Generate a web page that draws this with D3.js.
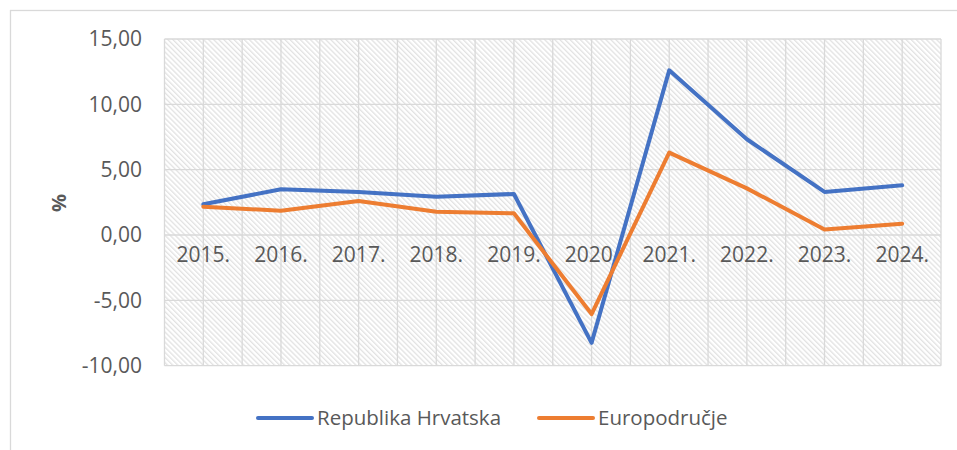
<!DOCTYPE html>
<html>
<head>
<meta charset="utf-8">
<script src="https://cdn.jsdelivr.net/npm/d3@7/dist/d3.min.js"></script>
<style>
  html, body { margin: 0; padding: 0; background: #fff; }
  svg { display: block; }
  text { font-family: "Open Sans", "Noto Sans", sans-serif; fill: #595959; }
</style>
</head>
<body>
<svg id="chart" width="957" height="450"></svg>
<script>
const categories = ["2015.", "2016.", "2017.", "2018.", "2019.", "2020.", "2021.", "2022.", "2023.", "2024."];
const hrvatska = [2.35, 3.5, 3.3, 2.93, 3.14, -8.25, 12.6, 7.33, 3.3, 3.8];
const europodrucje = [2.17, 1.86, 2.6, 1.78, 1.66, -6.05, 6.3, 3.57, 0.43, 0.87];
const yTicks = [-10, -5, 0, 5, 10, 15];
const seriesNames = ["Republika Hrvatska", "Europodručje"];
const seriesColors = ["#4472C4", "#ED7D31"];

const svg = d3.select("#chart");
const plot = { left: 164.5, right: 941, top: 39, bottom: 365.7 };

// outer chart border
svg.append("rect")
  .attr("x", 10.5).attr("y", 10.5)
  .attr("width", 1000).attr("height", 1000)
  .attr("fill", "#fff").attr("stroke", "#d9d9d9").attr("stroke-width", 1.3);

// hatch pattern
const defs = svg.append("defs");
const pat = defs.append("pattern")
  .attr("id", "hatch").attr("patternUnits", "userSpaceOnUse")
  .attr("width", 3.6).attr("height", 3.6)
  .attr("patternTransform", "rotate(-45)");
pat.append("rect").attr("width", 3.6).attr("height", 3.6).attr("fill", "#ffffff");
pat.append("line").attr("x1", 0.7).attr("y1", 0).attr("x2", 0.7).attr("y2", 3.6)
  .attr("stroke", "#dedede").attr("stroke-width", 1.15);

const x = d3.scaleBand().domain(categories).range([plot.left, plot.right]).padding(0);
const y = d3.scaleLinear().domain([-10, 15]).range([plot.bottom, plot.top]);
const cx = c => x(c) + x.bandwidth() / 2;

svg.append("rect")
  .attr("x", plot.left).attr("y", plot.top)
  .attr("width", plot.right - plot.left).attr("height", plot.bottom - plot.top)
  .attr("fill", "url(#hatch)");

// gridlines
const grid = svg.append("g").attr("stroke", "#d9d9d9").attr("stroke-width", 1.3);
const vx = [];
categories.forEach(c => { vx.push(x(c)); vx.push(cx(c)); });
vx.push(plot.right);
grid.selectAll("line.v").data(vx).enter().append("line")
  .attr("x1", d => d).attr("x2", d => d)
  .attr("y1", plot.top).attr("y2", plot.bottom);
grid.selectAll("line.h").data(yTicks).enter().append("line")
  .attr("x1", plot.left).attr("x2", plot.right)
  .attr("y1", d => y(d)).attr("y2", d => y(d));

// y axis labels
const fmt = v => d3.format(".2f")(v).replace(".", ",").replace("−", "-");
const yAxis = d3.axisLeft(y).tickValues(yTicks).tickSize(0).tickPadding(0).tickFormat(fmt);
const ya = svg.append("g").attr("transform", `translate(${142},0)`).call(yAxis);
ya.select(".domain").remove();
ya.selectAll("text").style("font-size", "21px").attr("fill", "#595959")
  .style("font-family", "'Open Sans', sans-serif");

// y title
svg.append("text")
  .attr("transform", `translate(66,203) rotate(-90)`)
  .attr("text-anchor", "middle")
  .style("font-size", "20px").style("font-weight", "bold")
  .text("%");

// category labels
const xAxis = d3.axisBottom(x).tickSize(0).tickPadding(0);
const xa = svg.append("g").attr("transform", `translate(0,${y(0) + 12})`).call(xAxis);
xa.select(".domain").remove();
xa.selectAll("text").style("font-size", "21px").attr("fill", "#595959")
  .style("font-family", "'Open Sans', sans-serif");

// lines
const line = d3.line().x((d, i) => cx(categories[i])).y(d => y(d));
[hrvatska, europodrucje].forEach((s, k) => {
  svg.append("path").datum(s)
    .attr("d", line)
    .attr("fill", "none")
    .attr("stroke", seriesColors[k])
    .attr("stroke-width", 4)
    .attr("stroke-linejoin", "round")
    .attr("stroke-linecap", "round");
});

// legend
const legendX = [258, 539];
seriesNames.forEach((n, k) => {
  const g = svg.append("g").attr("transform", `translate(${legendX[k]},418)`);
  g.append("line").attr("x1", 0).attr("x2", 54).attr("y1", 0).attr("y2", 0)
    .attr("stroke", seriesColors[k]).attr("stroke-width", 4).attr("stroke-linecap", "round");
  g.append("text").attr("x", 59).attr("y", 0).attr("dy", "0.35em")
    .style("font-size", "20.5px").text(n);
});
</script>
</body>
</html>
